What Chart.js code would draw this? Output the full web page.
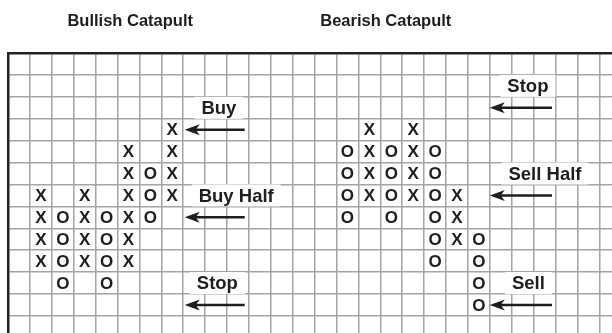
<!DOCTYPE html>
<html>
<head>
<meta charset="utf-8">
<script src="https://cdn.jsdelivr.net/npm/chart.js@4/dist/chart.umd.min.js"></script>
<style>
  body { margin: 0; background: #fff; }
  #wrap { width: 612px; height: 333px; position: relative; }
</style>
</head>
<body>
<div id="wrap"><canvas id="pfChart"></canvas></div>
<script>
'use strict'

// point & figure columns: column index, mark, lowest and highest box (counted from bottom row)
const bullCols  = [1, 2, 3, 4, 5, 6, 7];
const bullMarks = ['X', 'O', 'X', 'O', 'X', 'O', 'X'];
const bullLow   = [2, 1, 2, 1, 2, 4, 5];
const bullHigh  = [5, 4, 5, 4, 7, 6, 8];

const bearCols  = [15, 16, 17, 18, 19, 20, 21];
const bearMarks = ['O', 'X', 'O', 'X', 'O', 'X', 'O'];
const bearLow   = [4, 5, 4, 5, 2, 3, 0];
const bearHigh  = [7, 8, 7, 8, 7, 5, 3];

// titles, signal labels and arrows
const panelTitles = ['Bullish Catapult', 'Bearish Catapult'];
const titleX      = [5.58, 17.25];
const labelTexts  = ['Buy', 'Buy Half', 'Stop', 'Stop', 'Sell Half', 'Sell'];
const labelX      = [9.63, 10.42, 9.56, 23.74, 24.52, 23.76];
const labelY      = [9.5, 5.5, 1.5, 10.5, 6.5, 1.5];
const arrowFrom   = [10.81, 10.81, 10.81, 24.84, 24.84, 24.84];
const arrowTo     = [8.07, 8.07, 8.07, 22.0, 22.0, 22.0];
const arrowY      = [8.5, 4.5, 0.5, 9.5, 5.5, 0.5];

const INK = '#1e1e1e';
const FONT = '"Liberation Sans", Arial, Helvetica, sans-serif';

// turn the columns into one point per box, split by X / O
function boxes(cols, marks, low, high, want) {
    let pts = [];
    for (let i = 0; i < cols.length; i++) {
        if (marks[i] !== want) continue;
        for (let b = low[i]; b <= high[i]; b++) {
            pts.push({ x: cols[i] + 0.5, y: b + 0.5 });
        }
    }
    return pts;
}

const xPoints = boxes(bullCols, bullMarks, bullLow, bullHigh, 'X')
    .concat(boxes(bearCols, bearMarks, bearLow, bearHigh, 'X'));
const oPoints = boxes(bullCols, bullMarks, bullLow, bullHigh, 'O')
    .concat(boxes(bearCols, bearMarks, bearLow, bearHigh, 'O'));

// draws the X and O letters at each point the library placed
const markPlugin = {
    id: 'marks',
    afterDatasetsDraw(chart) {
        const c = chart.ctx;
        c.save();
        c.fillStyle = INK;
        c.font = 'bold 17px ' + FONT;
        c.textAlign = 'center';
        c.textBaseline = 'middle';
        chart.data.datasets.forEach((ds, i) => {
            chart.getDatasetMeta(i).data.forEach(el => {
                c.fillText(ds.mark, el.x, el.y + 1);
            });
        });
        c.restore();
    }
};

// titles, boxed labels, arrows
const notePlugin = {
    id: 'notes',
    afterDraw(chart) {
        const c = chart.ctx;
        const xs = chart.scales.x, ys = chart.scales.y;
        c.save();
        c.fillStyle = INK;
        c.textAlign = 'center';
        c.textBaseline = 'middle';

        c.font = 'bold 16.5px ' + FONT;
        panelTitles.forEach((t, i) => {
            c.fillText(t, xs.getPixelForValue(titleX[i]), 21);
        });

        c.font = 'bold 18.5px ' + FONT;
        labelTexts.forEach((t, i) => {
            const px = xs.getPixelForValue(labelX[i]);
            const py = ys.getPixelForValue(labelY[i]);
            const w = c.measureText(t).width + 14;
            c.fillStyle = '#fff';
            c.fillRect(px - w / 2, py - 11, w, 22);
            c.fillStyle = INK;
            c.fillText(t, px, py + 1);
        });

        c.strokeStyle = INK;
        c.lineWidth = 2.5;
        arrowY.forEach((v, i) => {
            const py = ys.getPixelForValue(v);
            const tip = xs.getPixelForValue(arrowTo[i]);
            const tail = xs.getPixelForValue(arrowFrom[i]);
            c.beginPath();
            c.moveTo(tip + 10, py);
            c.lineTo(tail, py);
            c.stroke();
            c.beginPath();
            c.moveTo(tip, py);
            c.lineTo(tip + 15, py - 5.5);
            c.lineTo(tip + 11, py);
            c.lineTo(tip + 15, py + 5.5);
            c.closePath();
            c.fill();
        });
        c.restore();
    }
};

new Chart(document.getElementById('pfChart'), {
    type: 'scatter',
    data: {
        datasets: [
            { label: 'X', mark: 'X', data: xPoints, pointRadius: 0, pointHoverRadius: 0 },
            { label: 'O', mark: 'O', data: oPoints, pointRadius: 0, pointHoverRadius: 0 }
        ]
    },
    options: {
        responsive: true,
        maintainAspectRatio: false,
        animation: false,
        layout: { padding: { left: 8, top: 53, right: 0, bottom: 0 } },
        plugins: {
            legend: { display: false },
            tooltip: { enabled: false }
        },
        scales: {
            x: {
                type: 'linear',
                position: 'top',
                min: 0,
                max: 27.58,
                ticks: { display: false, stepSize: 1, includeBounds: false, autoSkip: false, maxTicksLimit: 100 },
                grid: { color: '#a4a4a4', lineWidth: 1.5, drawTicks: false },
                border: { display: true, color: '#222', width: 2.5 }
            },
            y: {
                type: 'linear',
                min: -0.78,
                max: 12,
                ticks: { display: false, stepSize: 1, includeBounds: false, autoSkip: false, maxTicksLimit: 100 },
                grid: { color: '#a4a4a4', lineWidth: 1.5, drawTicks: false },
                border: { display: true, color: '#222', width: 2.5 }
            }
        }
    },
    plugins: [markPlugin, notePlugin]
});
</script>
</body>
</html>
